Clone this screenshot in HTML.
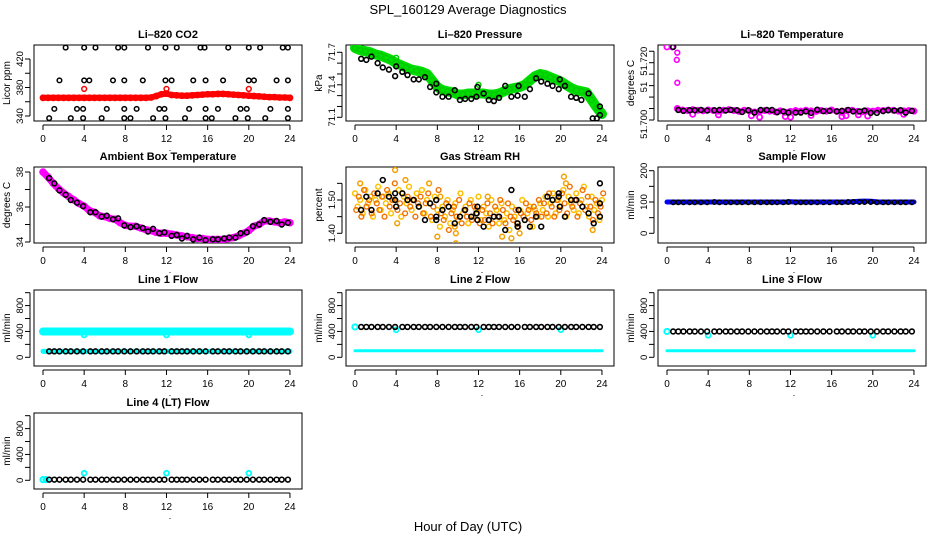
<!DOCTYPE html>
<html><head><meta charset="utf-8">
<style>
html,body{margin:0;padding:0;background:#fff;}
svg{display:block;font-family:"Liberation Sans",Arial,sans-serif;}
</style></head>
<body>
<svg id="chart" width="936" height="540" viewBox="0 0 936 540" xmlns="http://www.w3.org/2000/svg">
<rect x="0" y="0" width="936" height="540" fill="#fff"/>
<text x="468" y="14" text-anchor="middle" font-size="13">SPL_160129  Average Diagnostics</text>
<text x="468" y="531" text-anchor="middle" font-size="13">Hour of Day (UTC)</text>
</svg>
<script>
// ---------- data ----------
const halfHours = [0,0.5,1,1.5,2,2.5,3,3.5,4,4.5,5,5.5,6,6.5,7,7.5,8,8.5,9,9.5,10,10.5,11,11.5,12,12.5,13,13.5,14,14.5,15,15.5,16,16.5,17,17.5,18,18.5,19,19.5,20,20.5,21,21.5,22,22.5,23,23.5,24];
const sampleHours = [0.6,1.1,1.6,2.2,2.7,3.3,3.9,4.6,5.1,5.7,6.2,6.8,7.3,7.9,8.5,9.1,9.7,10.2,10.7,11.3,11.8,12.5,13.0,13.5,14.0,14.6,15.2,15.8,16.5,17.0,17.6,18.1,18.7,19.2,19.8,20.4,21.0,21.5,22.1,22.7,23.2,23.8];
const xTicks = [0,4,8,12,16,20,24];

// CO2
const co2Red = [365.5,365.5,365.5,365.5,365.5,365.5,365.5,365.5,365.5,365.5,365.5,365.5,365.5,365.5,365.5,365.5,365.5,365.5,365.5,365.5,365.5,366,368,370.5,371.5,369.5,369,368.5,368.5,369,369.5,370,370.5,370.5,371,371,370.5,370,369.5,369,368.5,368,367.5,367,366.5,366.5,366,366,365.5];
const co2RedOutHours = [4,12,20];
const co2RedOutVals = [378,378,378];
const co2BlackHours = [2.2,4,5.1,7.3,7.9,10.2,11.9,13,15.3,15.7,18,20,21.1,23.3,23.8, 1.6,4,4.5,6.8,7.9,9.7,11.9,12.5,14.6,15.8,17.5,20,20.5,22.7,23.8, 1.1,3.3,3.9,6.2,7.9,9.1,11.3,11.8,14.2,15.8,17,19.2,19.8,22.1,23.8, 0.6,2.7,3.9,5.7,7.9,8.5,10.7,11.9,13.8,15.8,16.4,18.7,19.9,21.6,23.8];
const co2BlackVals = [436,436,436,436,436,436,436,436,436,436,436,436,436,436,436, 390,390,390,390,390,390,390,390,390,390,390,390,390,390,390, 350,350,350,350,350,350,350,350,350,350,350,350,350,350,350, 337,337,337,337,337,337,337,337,337,337,337,337,337,337,337];

// Pressure
const presGreen = [71.74,71.72,71.71,71.70,71.68,71.67,71.65,71.63,71.60,71.58,71.56,71.54,71.53,71.52,71.50,71.44,71.38,71.35,71.34,71.33,71.31,71.31,71.32,71.32,71.32,71.32,71.31,71.31,71.32,71.34,71.36,71.37,71.38,71.40,71.44,71.48,71.50,71.49,71.47,71.45,71.43,71.40,71.37,71.35,71.34,71.33,71.26,71.19,71.13];
const presGreenOutHours = [4,12,20];
const presGreenOutVals = [71.65,71.40,71.44];
const presBlackHours = [0.6,1.1,1.6,2.2,2.7,3.3,3.9,4,4.6,5.1,5.7,6.2,6.8,7.3,7.9,7.9,8.5,9.1,9.7,10.2,10.7,11.3,11.8,11.9,12.5,13,13.5,14,14.6,15.2,15.8,15.9,16.5,17,17.6,18.1,18.7,19.2,19.8,19.9,20.4,21,21.5,22,22.7,23.1,23.5,23.8,23.8];
const presBlackVals = [71.64,71.63,71.66,71.60,71.56,71.54,71.48,71.57,71.52,71.49,71.45,71.45,71.47,71.38,71.41,71.33,71.29,71.29,71.35,71.26,71.27,71.27,71.29,71.38,71.32,71.26,71.25,71.28,71.39,71.29,71.30,71.39,71.29,71.36,71.46,71.43,71.41,71.39,71.36,71.45,71.39,71.29,71.28,71.26,71.32,71.09,71.09,71.12,71.20];

// Li-820 temperature
const tempMag = [51.7255,51.7255,51.7040,51.7035,51.7033,51.7036,51.7034,51.7032,51.7035,51.7033,51.7031,51.7034,51.7036,51.7033,51.7030,51.7034,51.7032,51.7028,51.7030,51.7033,51.7031,51.7029,51.7032,51.7027,51.7030,51.7033,51.7031,51.7034,51.7032,51.7030,51.7033,51.7031,51.7035,51.7030,51.7027,51.7033,51.7034,51.7030,51.7029,51.7032,51.7031,51.7034,51.7033,51.7035,51.7034,51.7031,51.7032,51.7033,51.7031];
const tempMagLowHours = [2.5,5,8.2,9,11.5,12,14,17,17.4,18.6,19.5,23];
const tempMagLowVals = [51.7020,51.7018,51.7015,51.7010,51.7012,51.7010,51.7016,51.7012,51.7015,51.7018,51.7014,51.7020];
const tempMagOutHours = [1.0,0.95,1.0];
const tempMagOutVals = [51.7235,51.7210,51.7130];
const tempBlack = [51.7255,51.7035,51.7032,51.7034,51.7034,51.7035,51.7033,51.7034,51.7035,51.7033,51.7035,51.7034,51.7028,51.7034,51.7026,51.7035,51.7035,51.7035,51.7027,51.7030,51.7026,51.7026,51.7026,51.7030,51.7025,51.7036,51.7031,51.7032,51.7030,51.7032,51.7035,51.7030,51.7030,51.7033,51.7025,51.7025,51.7031,51.7034,51.7033,51.7034,51.7026,51.7032];

// Ambient box temperature
const ambMag = [38.0,37.7,37.35,37.05,36.8,36.6,36.4,36.2,36.05,35.8,35.7,35.5,35.45,35.35,35.3,35.1,34.95,34.9,34.9,34.8,34.7,34.65,34.55,34.5,34.5,34.45,34.4,34.35,34.3,34.25,34.2,34.2,34.15,34.15,34.15,34.15,34.2,34.25,34.35,34.5,34.65,34.9,35.0,35.2,35.2,35.15,35.1,35.15,35.1];
const ambBlack = [37.65,37.35,36.95,36.7,36.4,36.25,36.05,35.7,35.7,35.45,35.5,35.3,35.35,34.95,34.85,34.9,34.8,34.6,34.75,34.5,34.55,34.35,34.4,34.2,34.35,34.15,34.25,34.1,34.15,34.15,34.2,34.25,34.25,34.5,34.55,34.9,35.0,35.25,35.15,35.2,35.0,35.1];

// Gas stream RH
const rhA = [1.52,1.48,1.50,1.46,1.53,1.49,1.51,1.45,1.50,1.54,1.47,1.51,1.49,1.52,1.46,1.50,1.48,1.53,1.45,1.51,1.49,1.54,1.47,1.50,1.52,
 1.48,1.53,1.46,1.50,1.49,1.44,1.51,1.47,1.42,1.48,1.45,1.50,1.43,1.47,1.49,1.44,1.52,1.46,1.48,1.43,1.50,1.45,1.47,1.51,
 1.44,1.48,1.46,1.42,1.50,1.45,1.47,1.43,1.49,1.44,1.46,1.41,1.48,1.45,1.43,1.47,1.50,1.44,1.46,1.48,1.42,1.47,1.45,1.49,
 1.47,1.51,1.45,1.49,1.52,1.46,1.50,1.48,1.53,1.45,1.51,1.49,1.47,1.52,1.46,1.50,1.54,1.48,1.45,1.51,1.47,1.49,1.44,1.50];
const rhB = [1.47,1.51,1.45,1.53,1.48,1.50,1.46,1.52,1.49,1.47,1.51,1.45,1.53,1.48,1.50,1.55,1.47,1.49,1.52,1.46,1.51,1.48,1.50,1.45,1.49,
 1.51,1.46,1.49,1.52,1.45,1.48,1.50,1.53,1.46,1.44,1.49,1.41,1.46,1.48,1.45,1.50,1.43,1.47,1.45,1.49,1.44,1.48,1.46,1.43,
 1.47,1.44,1.49,1.46,1.43,1.48,1.45,1.50,1.47,1.43,1.49,1.45,1.44,1.47,1.42,1.46,1.45,1.49,1.47,1.44,1.48,1.46,1.50,1.45,
 1.49,1.46,1.52,1.48,1.45,1.50,1.47,1.52,1.49,1.46,1.54,1.48,1.50,1.45,1.49,1.53,1.47,1.51,1.48,1.44,1.50,1.46,1.48,1.52];
const rhOutHours = [0.5,3.9,4.1,4.9,7.2,8.0,8.3,9.8,9.7,9.8,12.9,14.3,15.2,16.0,20.3,20.5,23.1];
const rhOutVals = [1.55,1.59,1.43,1.56,1.55,1.39,1.51,1.37,1.42,1.40,1.51,1.39,1.385,1.40,1.57,1.55,1.41];
const rhBlackHours = [0.6,1.1,1.6,2.2,2.7,3.3,3.9,3.9,4.0,4.6,5.1,5.7,6.2,6.8,7.3,7.9,7.9,7.9,8.5,9.1,9.7,10.2,10.7,11.3,11.8,11.9,11.9,12.5,13.0,13.5,14.0,14.6,15.2,15.8,15.8,15.9,16.5,17.0,17.6,18.1,18.7,19.2,19.8,19.8,19.9,20.4,21.0,21.5,22.1,22.7,23.2,23.8,23.8,23.8];
const rhBlackVals = [1.47,1.51,1.47,1.52,1.56,1.51,1.50,1.52,1.48,1.52,1.50,1.50,1.48,1.44,1.49,1.50,1.45,1.44,1.47,1.48,1.43,1.45,1.47,1.45,1.46,1.48,1.44,1.42,1.44,1.45,1.45,1.41,1.53,1.43,1.42,1.47,1.44,1.42,1.45,1.42,1.51,1.50,1.52,1.51,1.48,1.45,1.50,1.50,1.48,1.46,1.43,1.49,1.45,1.55];

// Sample flow
const sampleBlue = [100,100,100,100,100,100,100,100,100,100,100,100,100,100,100,100,100,100,100,100,100,100,100,100,101,100,100,100,100,100,100,100,100,100,100,100,101,102,103,103,102,100,100,100,100,100,100,100,100];
const sampleBlack = [99,99,99,99,99,99,99,100,99,99,99,99,99,99,99,99,99,99,99,99,100,99,99,99,99,99,99,99,99,99,100,100,100,100,100,99,99,99,99,99,99,99];

// Line flows
const line1CyanHi = [400,400,400,400,400,400,400,400,400,400,400,400,400,400,400,400,400,400,400,400,400,400,400,400,400,400,400,400,400,400,400,400,400,400,400,400,400,400,400,400,400,400,400,400,400,400,400,400,400];
const line1CyanLo = [92,92,92,92,92,92,92,92,92,92,92,92,92,92,92,92,92,92,92,92,92,92,92,92,92,92,92,92,92,92,92,92,92,92,92,92,92,92,92,92,92,92,92,92,92,92,92,92,92];
const line1Black = [92,92,92,92,92,92,92,92,92,92,92,92,92,92,92,92,92,92,92,92,92,92,92,92,92,92,92,92,92,92,92,92,92,92,92,92,92,92,92,92,92,92];
const line1DipVals = [345,345,345];

const line2CyanLo = [100,100,100,100,100,100,100,100,100,100,100,100,100,100,100,100,100,100,100,100,100,100,100,100,100,100,100,100,100,100,100,100,100,100,100,100,100,100,100,100,100,100,100,100,100,100,100,100,100];
const line2Black = [470,470,470,470,470,470,470,470,470,470,470,470,470,470,470,470,470,470,470,470,470,470,470,470,470,470,470,470,470,470,470,470,470,470,470,470,470,470,470,470,470,470];
const line2Start = [470];
const line2DipVals = [425,425,425];

const line3CyanLo = [100,100,100,100,100,100,100,100,100,100,100,100,100,100,100,100,100,100,100,100,100,100,100,100,100,100,100,100,100,100,100,100,100,100,100,100,100,100,100,100,100,100,100,100,100,100,100,100,100];
const line3Black = [400,400,400,400,400,400,400,400,400,400,400,400,400,400,400,400,400,400,400,400,400,400,400,400,400,400,400,400,400,400,400,400,400,400,400,400,400,400,400,400,400,400];
const line3Start = [400];
const line3DipVals = [340,340,340];

const line4Black = [10,10,10,10,10,10,10,10,10,10,10,10,10,10,10,10,10,10,10,10,10,10,10,10,10,10,10,10,10,10,10,10,10,10,10,10,10,10,10,10,10,10];
const line4Start = [10];
const line4BumpVals = [110,110,110];
const dipHours = [4,12,20];

// ---------- drawing ----------
const NS = "http://www.w3.org/2000/svg";
const svg = document.getElementById('chart');
function el(tag, attrs, parent){
  const e = document.createElementNS(NS, tag);
  for (const k in attrs) e.setAttribute(k, attrs[k]);
  (parent||svg).appendChild(e);
  return e;
}
const BOX_W = 268, BOX_H = 76;
const rowTop = [45,167,290,413];
function colLeft(c){ return 34 + 312*c; }
function xScale(c, h){ return colLeft(c) + 9 + h*10.29; }

const panels = [
 {id:'co2', c:0, r:0, title:'Li\u2013820 CO2', ylab:'Licor ppm', ref:[420,14,340,71], ticks:[340,360,380,400,420], labels:[[340,'340'],[380,'380'],[420,'420']]},
 {id:'pressure', c:1, r:0, title:'Li\u2013820 Pressure', ylab:'kPa', ref:[71.7,7.3,71.1,72.3], ticks:[71.1,71.2,71.3,71.4,71.5,71.6,71.7], labels:[[71.1,'71.1'],[71.4,'71.4'],[71.7,'71.7']]},
 {id:'li820-temp', c:2, r:0, title:'Li\u2013820 Temperature', ylab:'degrees C', ref:[51.720,17.7,51.700,75], ticks:[51.700,51.704,51.708,51.712,51.716,51.720,51.724], labels:[[51.6985,'51.700'],[51.7115,'51'],[51.7205,'51.720']]},
 {id:'ambient', c:0, r:1, title:'Ambient Box Temperature', ylab:'degrees C', ref:[38,5,34,75], ticks:[34,35,36,37,38], labels:[[34,'34'],[36,'36'],[38,'38']]},
 {id:'rh', c:1, r:1, title:'Gas Stream RH', ylab:'percent', ref:[1.5,33,1.4,66.3], ticks:[1.40,1.45,1.50,1.55], labels:[[1.40,'1.40'],[1.50,'1.50']]},
 {id:'sample-flow', c:2, r:1, title:'Sample Flow', ylab:'ml/min', ref:[200,3.7,0,66.3], ticks:[0,50,100,150,200], labels:[[0,'0'],[100,'100'],[200,'200']]},
 {id:'line1', c:0, r:2, title:'Line 1 Flow', ylab:'ml/min', ref:[800,15.6,0,67.3], ticks:[0,200,400,600,800,1000], labels:[[0,'0'],[400,'400'],[800,'800']]},
 {id:'line2', c:1, r:2, title:'Line 2 Flow', ylab:'ml/min', ref:[800,15.6,0,67.3], ticks:[0,200,400,600,800,1000], labels:[[0,'0'],[400,'400'],[800,'800']]},
 {id:'line3', c:2, r:2, title:'Line 3 Flow', ylab:'ml/min', ref:[800,15.6,0,67.3], ticks:[0,200,400,600,800,1000], labels:[[0,'0'],[400,'400'],[800,'800']]},
 {id:'line4', c:0, r:3, title:'Line 4 (LT) Flow', ylab:'ml/min', ref:[800,15.6,0,67.3], ticks:[0,200,400,600,800,1000], labels:[[0,'0'],[400,'400'],[800,'800']]}
];
const P = {};
panels.forEach(p => {
  const L = colLeft(p.c), T = rowTop[p.r];
  const [v1,o1,v2,o2] = p.ref;
  p.y = v => T + o1 + (v - v1)*(o2 - o1)/(v2 - v1);
  p.x = h => xScale(p.c, h);
  p.L = L; p.T = T;
  const g = el('g', {});
  
  
  p.g = g;
  const t = el('text', {x: L + BOX_W/2, y: T - 7, 'text-anchor':'middle', 'font-size':'11', 'font-weight':'bold'}, g);
  t.textContent = p.title;
  
  
  const yl = el('text', {x: 0, y: 0, 'text-anchor':'middle', 'font-size':'10', transform:`translate(${L-24},${T+BOX_H/2}) rotate(-90)`}, g);
  yl.textContent = p.ylab;
  
  
  // x axis
  const xa = el('g', {}, g);
  
  
  el('line', {x1:p.x(0), x2:p.x(24), y1:T+BOX_H+4, y2:T+BOX_H+4, stroke:'#000', 'stroke-width':1}, xa);
  xTicks.forEach(h => {
    el('line', {x1:p.x(h), x2:p.x(h), y1:T+BOX_H+4, y2:T+BOX_H+9, stroke:'#000', 'stroke-width':1}, xa);
    const lt = el('text', {x:p.x(h), y:T+BOX_H+21, 'text-anchor':'middle', 'font-size':'10'}, xa);
    lt.textContent = String(h);
    
    
  });
  const dot = el('text', {x:L+BOX_W/2+2, y:T+BOX_H+30, 'text-anchor':'middle', 'font-size':'9'}, xa);
  dot.textContent = '.';
  // y axis
  const ya = el('g', {}, g);
  
  
  const ys = p.ticks.map(p.y).filter(v => v >= T-1 && v <= T+BOX_H+1);
  el('line', {x1:L-4, x2:L-4, y1:Math.min(...ys), y2:Math.max(...ys), stroke:'#000', 'stroke-width':1}, ya);
  p.ticks.forEach(v => {
    const yy = p.y(v);
    if (yy < T-1 || yy > T+BOX_H+1) return;
    el('line', {x1:L-9, x2:L-4, y1:yy, y2:yy, stroke:'#000', 'stroke-width':1}, ya);
  });
  p.labels.forEach(([v,s]) => {
    const lt = el('text', {x:0, y:0, 'text-anchor':'middle', 'font-size':'9.5', transform:`translate(${L-11},${p.y(v)}) rotate(-90)`}, ya);
    lt.textContent = s;
    
    
  });
  const box = el('rect', {x:L, y:T, width:BOX_W, height:BOX_H, fill:'none', stroke:'#000', 'stroke-width':1}, g);
  
  
  const clip = el('clipPath', {id:'clip-'+p.id}, g);
  el('rect', {x:L, y:T, width:BOX_W, height:BOX_H}, clip);
  p.data = el('g', {'clip-path':`url(#clip-${p.id})`}, g);
  P[p.id] = p;
});

function points(p, hours, vals, color, name, r, sw){
  const g = el('g', {}, p.data);
  
  
  hours.forEach((h,i) => {
    const c = el('circle', {cx:p.x(h), cy:p.y(vals[i]), r:r||2.4, fill:'none', stroke:color, 'stroke-width':sw||1.6}, g);
    
    
  });
}
function band(p, hours, vals, color, name, w){
  const pts = hours.map((h,i) => p.x(h).toFixed(1) + ',' + p.y(vals[i]).toFixed(1)).join(' ');
  const pl = el('polyline', {points:pts, fill:'none', stroke:color, 'stroke-width':w, 'stroke-linejoin':'round', 'stroke-linecap':'round'}, p.data);
  
  
}

// CO2
band(P.co2, halfHours, co2Red, '#f00', 'co2-red-band', 6);
points(P.co2, halfHours, co2Red, '#f00', 'co2-red-series', 2.6, 1.6);
points(P.co2, co2RedOutHours, co2RedOutVals, '#f00', 'co2-red-outliers', 2.4, 1.5);
points(P.co2, co2BlackHours, co2BlackVals, '#000', 'co2-black-series', 2.3, 1.5);
// Pressure
band(P.pressure, halfHours, presGreen, '#0d0', 'pressure-green-band', 10);
points(P.pressure, halfHours, presGreen, '#0c0', 'pressure-green-series', 2.6, 1.6);
points(P.pressure, presGreenOutHours, presGreenOutVals, '#0c0', 'pressure-green-outliers', 2.4, 1.5);
points(P.pressure, presBlackHours, presBlackVals, '#000', 'pressure-black-series', 2.4, 1.6);
// Li-820 temperature
band(P['li820-temp'], halfHours.slice(2), tempMag.slice(2), '#f0f', 'temp-magenta-band', 5);
points(P['li820-temp'], halfHours, tempMag, '#f0f', 'temp-magenta-series', 2.6, 1.8);
points(P['li820-temp'], tempMagLowHours, tempMagLowVals, '#f0f', 'temp-magenta-low', 2.6, 1.8);
points(P['li820-temp'], tempMagOutHours, tempMagOutVals, '#f0f', 'temp-magenta-outliers', 2.4, 1.6);
points(P['li820-temp'], sampleHours, tempBlack, '#000', 'temp-black-series', 2.4, 1.6);
// Ambient
band(P.ambient, halfHours, ambMag, '#f0f', 'ambient-magenta-band', 7);
points(P.ambient, halfHours, ambMag, '#f0f', 'ambient-magenta-series', 2.8, 2);
points(P.ambient, sampleHours, ambBlack, '#000', 'ambient-black-series', 2.4, 1.6);
// RH
const quarterHours = [];
for (let i = 0; i < rhA.length; i++) quarterHours.push(i*24/(rhA.length-1));
points(P.rh, quarterHours, rhA, '#ffc000', 'rh-yellow-series', 2.4, 1.5);
points(P.rh, quarterHours.map(h => h+0.12), rhB, '#f07000', 'rh-orange-series', 2.4, 1.4);
points(P.rh, rhOutHours, rhOutVals, '#f5a000', 'rh-outliers', 2.4, 1.5);
points(P.rh, rhBlackHours, rhBlackVals, '#000', 'rh-black-series', 2.4, 1.6);
// Sample flow
band(P['sample-flow'], halfHours, sampleBlue, '#00f', 'sample-blue-band', 5);
points(P['sample-flow'], sampleHours, sampleBlack, '#000', 'sample-black-series', 2.2, 1.5);
// Line 1
band(P.line1, halfHours, line1CyanHi, '#0ff', 'line1-cyan-high-band', 8);
band(P.line1, halfHours, line1CyanLo, '#0ff', 'line1-cyan-low-band', 5);
points(P.line1, dipHours, line1DipVals, '#0ff', 'line1-cyan-dips', 2.4, 1.8);
points(P.line1, sampleHours, line1Black, '#000', 'line1-black-series', 2.4, 1.6);
// Line 2
band(P.line2, halfHours, line2CyanLo, '#0ff', 'line2-cyan-band', 3);
points(P.line2, [0], line2Start, '#0ff', 'line2-cyan-start', 2.6, 2);
points(P.line2, dipHours, line2DipVals, '#0ff', 'line2-cyan-dips', 2.4, 1.8);
points(P.line2, sampleHours, line2Black, '#000', 'line2-black-series', 2.4, 1.6);
// Line 3
band(P.line3, halfHours, line3CyanLo, '#0ff', 'line3-cyan-band', 3);
points(P.line3, [0], line3Start, '#0ff', 'line3-cyan-start', 2.6, 2);
points(P.line3, dipHours, line3DipVals, '#0ff', 'line3-cyan-dips', 2.4, 1.8);
points(P.line3, sampleHours, line3Black, '#000', 'line3-black-series', 2.4, 1.6);
// Line 4
points(P.line4, [0,0.3], [10,10], '#0ff', 'line4-cyan-start', 2.6, 2);
points(P.line4, dipHours, line4BumpVals, '#0ff', 'line4-cyan-bumps', 2.4, 1.8);
points(P.line4, sampleHours, line4Black, '#000', 'line4-black-series', 2.4, 1.6);
</script>
</body></html>
